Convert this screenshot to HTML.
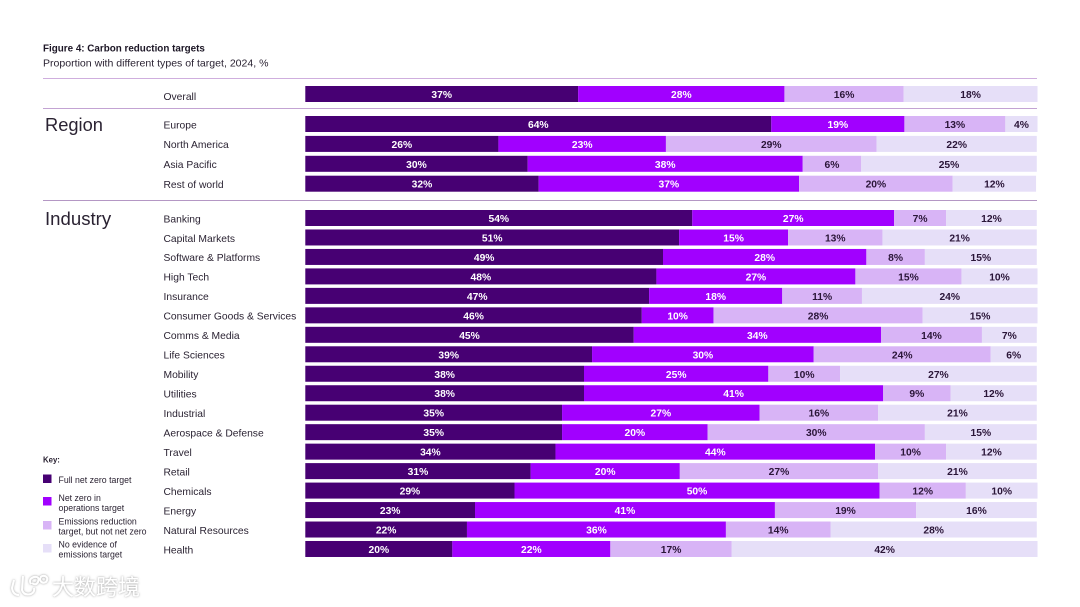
<!DOCTYPE html>
<html lang="en">
<head>
<meta charset="utf-8">
<title>Figure 4: Carbon reduction targets</title>
<style>
  html, body { margin: 0; padding: 0; background: #fff; }
  body { width: 1080px; height: 607px; overflow: hidden; }
  svg { display: block; font-family: "Liberation Sans", "Noto Sans CJK SC", sans-serif; }
  svg text { fill: #2b2433; }
</style>
</head>
<body>
<svg id="chart" width="1080" height="607" viewBox="0 0 1080 607" xmlns="http://www.w3.org/2000/svg">
  <defs>
    <filter id="soft" x="-5%" y="-5%" width="110%" height="110%"><feGaussianBlur stdDeviation="0.3"/></filter>
    <filter id="wm" x="-20%" y="-20%" width="140%" height="140%"><feDropShadow dx="0" dy="0" stdDeviation="1.1" flood-color="#8a8a8a" flood-opacity="0.9"/></filter>
  </defs>
  <rect width="1080" height="607" fill="#ffffff"/>
  <g id="content" filter="url(#soft)">
    <text x="43" y="51.5" font-size="9.85" font-weight="700" style="fill:#1d1725">Figure 4: Carbon reduction targets</text>
    <text x="43" y="66.5" font-size="10.55">Proportion with different types of target, 2024, %</text>
    <line x1="43" x2="1037" y1="78.5" y2="78.5" stroke="#cfaede" stroke-width="1"/>
    <line x1="43" x2="1037" y1="108.5" y2="108.5" stroke="#c3a3d3" stroke-width="1"/>
    <line x1="43" x2="1037" y1="200.5" y2="200.5" stroke="#b497c4" stroke-width="1"/>
    <text x="45" y="131" font-size="18.3">Region</text>
    <text x="45" y="225" font-size="18.6">Industry</text>
    <g id="rows"></g>
    <g>
      <text x="43" y="462.5" font-size="7.8" font-weight="700">Key:</text>
      <rect x="43" y="474.5" width="8.5" height="8.5" fill="#460073"/>
      <text x="58.5" y="483" font-size="8.75">Full net zero target</text>
      <rect x="43" y="497" width="8.5" height="8.5" fill="#a100ff"/>
      <text x="58.5" y="501" font-size="8.75">Net zero in</text>
      <text x="58.5" y="511" font-size="8.75">operations target</text>
      <rect x="43" y="521" width="8.5" height="8.5" fill="#d8b4f6"/>
      <text x="58.5" y="524.5" font-size="8.75">Emissions reduction</text>
      <text x="58.5" y="534.5" font-size="8.75">target, but not net zero</text>
      <rect x="43" y="544" width="8.5" height="8.5" fill="#e6dff8"/>
      <text x="58.5" y="547.5" font-size="8.75">No evidence of</text>
      <text x="58.5" y="557.5" font-size="8.75">emissions target</text>
    </g>
  </g>
  <g filter="url(#wm)">
    <path d="M14 580 L12 588 Q13 595 19 595 M23 576 L22 590 Q24 596 31 594 Q35 592 34 588 M31 584 Q28 579 34 577 Q40 576 38 582 Q36 586 32 583 M40 580 Q40 575 45 576 Q49 578 46 582 Q42 584 40 580" fill="none" stroke="#ffffff" stroke-width="2"/>
    <text x="52" y="595" font-size="22" style="fill:#ffffff">大数跨境</text>
  </g>
  <script>
    // Row names, top to bottom
    const categories = ["Overall", "Europe", "North America", "Asia Pacific", "Rest of world",
      "Banking", "Capital Markets", "Software & Platforms", "High Tech", "Insurance",
      "Consumer Goods & Services", "Comms & Media", "Life Sciences", "Mobility", "Utilities",
      "Industrial", "Aerospace & Defense", "Travel", "Retail", "Chemicals", "Energy",
      "Natural Resources", "Health"];

    // Drawn segment lengths, %
    const fullNetZero = [37.3, 63.7, 26.4, 30.4, 31.9, 52.9, 51.1, 48.9, 48.0, 47.0, 46.0, 44.9, 39.2, 38.1, 38.1, 35.1, 35.1, 34.2, 30.8, 28.6, 23.2, 22.1, 20.1];
    const netZeroOperations = [28.2, 18.2, 22.9, 37.6, 35.6, 27.6, 14.9, 27.8, 27.2, 18.2, 9.8, 33.8, 30.3, 25.2, 40.9, 27.0, 19.9, 43.7, 20.4, 49.9, 41.0, 35.4, 21.6];
    const emissionsReduction = [16.3, 13.8, 28.8, 8.0, 21.0, 7.1, 12.9, 8.0, 14.5, 10.9, 28.6, 13.8, 24.2, 9.8, 9.2, 16.2, 29.7, 9.7, 27.1, 11.8, 19.3, 14.3, 16.6];
    const noEvidence = [18.3, 4.4, 21.9, 24.0, 11.4, 12.4, 21.1, 15.3, 10.4, 24.0, 15.7, 7.5, 6.3, 26.9, 11.8, 21.7, 15.3, 12.4, 21.7, 9.8, 16.5, 28.2, 41.8];

    // Values as printed on the bars
    const printedFull = [37, 64, 26, 30, 32, 54, 51, 49, 48, 47, 46, 45, 39, 38, 38, 35, 35, 34, 31, 29, 23, 22, 20];
    const printedOperations = [28, 19, 23, 38, 37, 27, 15, 28, 27, 18, 10, 34, 30, 25, 41, 27, 20, 44, 20, 50, 41, 36, 22];
    const printedReduction = [16, 13, 29, 6, 20, 7, 13, 8, 15, 11, 28, 14, 24, 10, 9, 16, 30, 10, 27, 12, 19, 14, 17];
    const printedNone = [18, 4, 22, 25, 12, 12, 21, 15, 10, 24, 15, 7, 6, 27, 12, 21, 15, 12, 21, 10, 16, 28, 42];

    const seriesNames = ["full-net-zero", "net-zero-operations", "emissions-reduction", "no-evidence"];
    const seriesValues = [fullNetZero, netZeroOperations, emissionsReduction, noEvidence];
    const seriesPrinted = [printedFull, printedOperations, printedReduction, printedNone];
    const seriesColors = ["#460073", "#a100ff", "#d8b4f6", "#e6dff8"];
    const seriesTextColors = ["#ffffff", "#ffffff", "#2a1438", "#2a1438"];

    const SVG_NS = "http://www.w3.org/2000/svg";
    const BAR_HEIGHT = 16;

    function xScale(percent) {
      return 305.3 + percent * 7.315;
    }

    function rowTop(index) {
      if (index === 0) return 86;
      if (index <= 4) return 116 + (index - 1) * 19.9;
      return 210 + (index - 5) * 19.47;
    }

    function slug(text) {
      return text.toLowerCase().replace(/[^a-z0-9]+/g, "-");
    }

    const rowsLayer = document.getElementById("rows");

    categories.forEach(function (category, rowIndex) {
      const top = rowTop(rowIndex);
      const key = slug(category);

      const rowGroup = document.createElementNS(SVG_NS, "g");
      
      

      const label = document.createElementNS(SVG_NS, "text");
      
      
      label.setAttribute("x", 163.5);
      label.setAttribute("y", top + (rowIndex === 0 ? 13.8 : 12.3));
      label.setAttribute("font-size", "10.3");
      label.textContent = category;
      rowGroup.appendChild(label);

      let cumulative = 0;
      seriesValues.forEach(function (values, seriesIndex) {
        const start = xScale(cumulative);
        cumulative += values[rowIndex];
        const end = xScale(cumulative);

        const bar = document.createElementNS(SVG_NS, "rect");
        
        
        bar.setAttribute("x", start);
        bar.setAttribute("y", top);
        bar.setAttribute("width", end - start);
        bar.setAttribute("height", BAR_HEIGHT);
        bar.setAttribute("fill", seriesColors[seriesIndex]);
        rowGroup.appendChild(bar);

        const value = document.createElementNS(SVG_NS, "text");
        
        
        value.setAttribute("x", (start + end) / 2);
        value.setAttribute("y", top + 12);
        value.setAttribute("text-anchor", "middle");
        value.setAttribute("font-size", "10.3");
        value.setAttribute("font-weight", "700");
        value.style.fill = seriesTextColors[seriesIndex];
        value.textContent = seriesPrinted[seriesIndex][rowIndex] + "%";
        rowGroup.appendChild(value);
      });

      rowsLayer.appendChild(rowGroup);
    });
  </script>
</svg>
</body>
</html>
